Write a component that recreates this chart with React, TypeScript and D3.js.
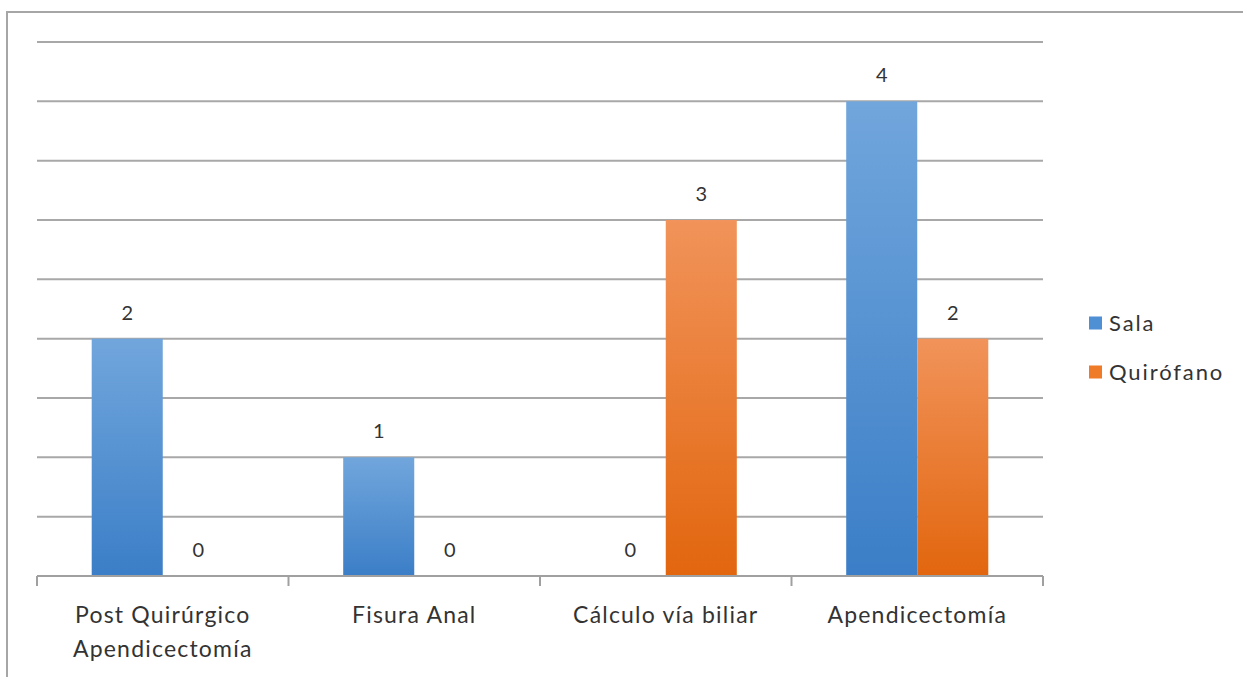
import React from "react";
import * as d3 from "d3";

const categories = [
  ["Post Quirúrgico", "Apendicectomía"],
  ["Fisura Anal"],
  ["Cálculo vía biliar"],
  ["Apendicectomía"],
];
const seriesNames = ["Sala", "Quirófano"];
const salaValues = [2, 1, 0, 4];
const quirofanoValues = [0, 0, 3, 2];
const gridTicks = [0.5, 1, 1.5, 2, 2.5, 3, 3.5, 4, 4.5];

const W = 1243;
const H = 677;
const margin = { left: 37, right: 200, top: 42, bottom: 101 };
const FONT = "Lato, 'Open Sans', sans-serif";

export default function App() {
  const x0 = d3
    .scaleBand<number>()
    .domain(categories.map((_, i) => i))
    .range([margin.left, W - margin.right])
    .paddingInner(0)
    .paddingOuter(0);
  const y = d3.scaleLinear().domain([0, 4.5]).range([H - margin.bottom, margin.top]);
  const groupWidth = x0.bandwidth() * 0.565;
  const x1 = d3
    .scaleBand<number>()
    .domain([0, 1])
    .range([0, groupWidth])
    .padding(0);
  const series = [salaValues, quirofanoValues];
  const gradIds = ["gSala", "gQuir"];
  const legendColors = ["#4f8fd4", "#ef7a28"];
  const y0 = y(0);

  return (
    <svg
      width={W}
      height={H}
      style={{ position: "absolute", left: 0, top: 0, fontFamily: FONT }}
    >
      <defs>
        <linearGradient id="gSala" x1="0" y1="0" x2="0" y2="1">
          <stop offset="0" stopColor="#71a6dc" />
          <stop offset="1" stopColor="#3b7ec7" />
        </linearGradient>
        <linearGradient id="gQuir" x1="0" y1="0" x2="0" y2="1">
          <stop offset="0" stopColor="#f1935a" />
          <stop offset="1" stopColor="#e2660e" />
        </linearGradient>
      </defs>
      <rect x={0} y={0} width={W} height={H} fill="#fff" />
      {/* outer chart frame */}
      <rect x={7} y={12} width={W + 10} height={H + 10} fill="none" stroke="#a6a6a6" strokeWidth={2} />

      {/* horizontal gridlines */}
      {gridTicks.map((t) => (
        <line
          key={t}
          x1={margin.left}
          x2={W - margin.right}
          y1={y(t)}
          y2={y(t)}
          stroke="#a8a8a8"
          strokeWidth={2}
        />
      ))}

      {/* bars */}
      {categories.map((_, ci) => {
        const gx = (x0(ci) as number) + (x0.bandwidth() - groupWidth) / 2;
        return series.map((vals, si) => {
          const v = vals[ci];
          const bx = gx + (x1(si) as number);
          const by = y(v);
          return (
            <g key={`${ci}-${si}`}>
              {v > 0 && (
                <rect
                  x={bx}
                  y={by}
                  width={x1.bandwidth()}
                  height={y0 - by}
                  fill={`url(#${gradIds[si]})`}
                />
              )}
              <text
                x={bx + x1.bandwidth() / 2}
                y={by - 19}
                textAnchor="middle"
                fontSize={20}
                fill="#333"
              >
                {v}
              </text>
            </g>
          );
        });
      })}

      {/* category axis */}
      <line x1={margin.left} x2={W - margin.right} y1={y0} y2={y0} stroke="#a0a0a0" strokeWidth={2} />
      {d3.range(categories.length + 1).map((i) => {
        const tx = margin.left + i * x0.step();
        return <line key={i} x1={tx} x2={tx} y1={y0} y2={y0 + 10} stroke="#a0a0a0" strokeWidth={2} />;
      })}
      {categories.map((lines, ci) => (
        <text
          key={ci}
          x={(x0(ci) as number) + x0.bandwidth() / 2}
          y={y0 + 47}
          textAnchor="middle"
          fontSize={23}
          letterSpacing={1.2}
          fill="#333"
        >
          {lines.map((ln, li) => (
            <tspan key={li} x={(x0(ci) as number) + x0.bandwidth() / 2} dy={li === 0 ? 0 : 34}>
              {ln}
            </tspan>
          ))}
        </text>
      ))}

      {/* legend */}
      {seriesNames.map((name, i) => (
        <g key={name} transform={`translate(1089, ${323 + i * 49})`}>
          <rect x={0} y={-6.5} width={13} height={13} fill={legendColors[i]} />
          <text x={20} y={8} fontSize={22} letterSpacing={1.9} fill="#333">
            {name}
          </text>
        </g>
      ))}
    </svg>
  );
}
